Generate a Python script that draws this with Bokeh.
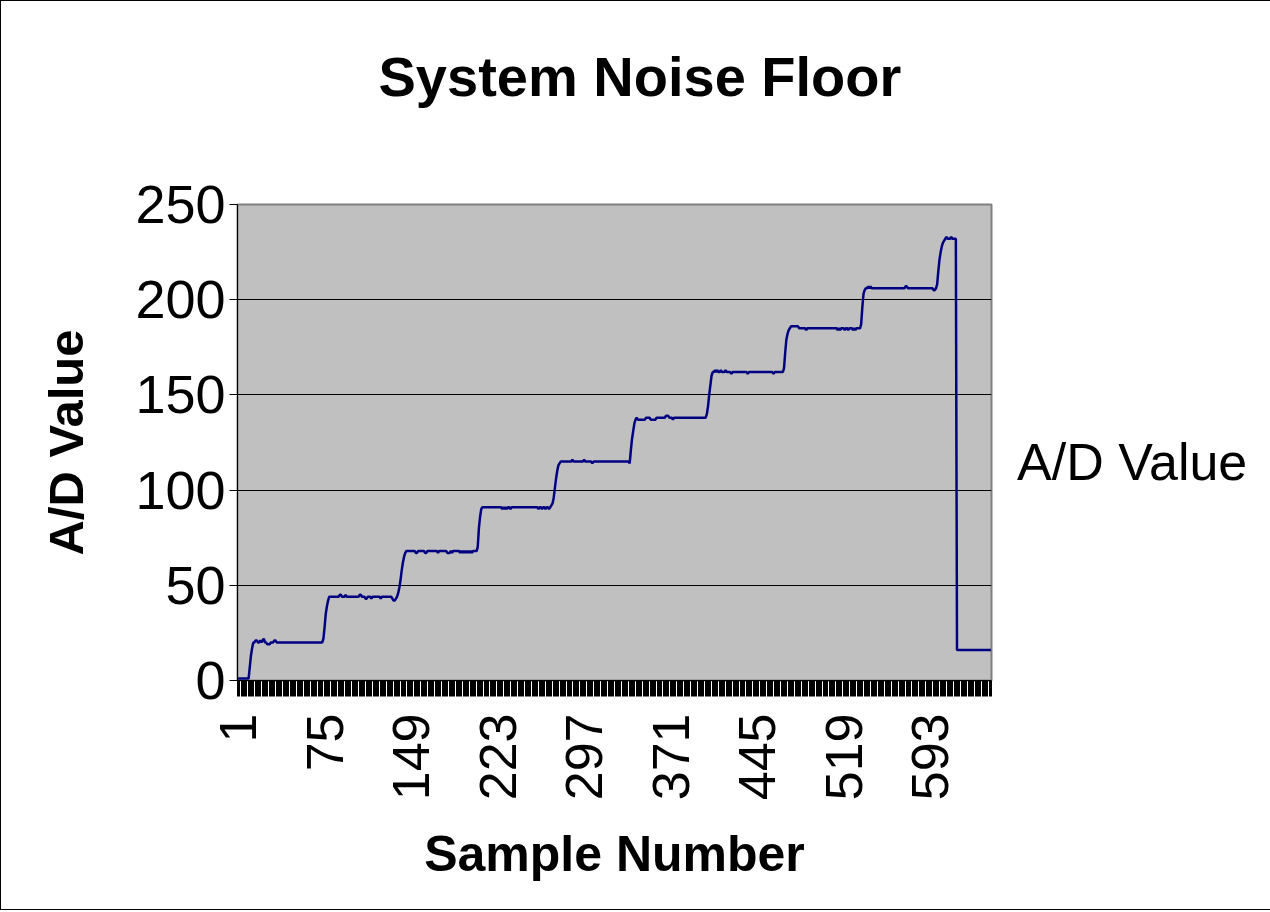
import math
from bokeh.plotting import figure
from bokeh.models import (Range1d, FixedTicker, ColumnDataSource, Title,
                          Legend, LegendItem)
from bokeh.embed import file_html
from bokeh.resources import INLINE

# ---- data (A/D value per sample) ----
step0 = [1, 1, 1, 1, 1, 1, 1, 1, 1, 1, 7, 13, 17, 20]
step1 = [20, 21, 21, 20, 20, 21, 20, 21, 22, 20,
         20, 19, 19, 19, 20, 20, 20, 21, 21, 20,
         20, 20, 20, 20, 20, 20, 20, 20, 20, 20,
         20, 20, 20, 20, 20, 20, 20, 20, 20, 20,
         20, 20, 20, 20, 20, 20, 20, 20, 20, 20,
         20, 20, 20, 20, 20, 20, 20, 20, 20]
step2 = [22, 28, 35, 39, 42, 44, 44,
         44, 44, 44, 44, 44, 44, 44, 45, 45, 44, 44, 44, 45, 44,
         44, 44, 44, 44, 44, 44, 44, 44, 44, 44, 45, 45, 44, 44, 44,
         43, 43, 44, 44, 44, 43, 44, 44, 44, 44, 44, 44, 44, 43,
         44, 44, 44, 44, 44, 44, 44, 44, 44, 43, 42, 42, 43, 44]
step3 = [46, 49, 53, 58, 62, 65, 67, 68,
         68, 68, 68, 68, 68, 68, 68, 67, 67, 68,
         68, 68, 68, 68, 68, 67, 67, 68, 68, 68,
         68, 68, 68, 68, 68, 68, 67, 68, 68, 68,
         68, 68, 68, 68, 67, 67, 67, 68, 67, 68,
         68, 68, 68, 68, 68, 67, 68, 67, 68, 67,
         68, 67, 68, 67, 68, 67, 68, 68, 68, 68]
step4 = [70, 80, 86, 90, 91, 91,
         91, 91, 91, 91, 91, 91, 91, 91, 91, 91,
         91, 91, 91, 91, 91, 90, 91, 90, 91, 90,
         91, 91, 90, 91, 91, 91, 91, 91, 91, 91,
         91, 91, 91, 91, 91, 91, 91, 91, 91, 91,
         91, 91, 91, 91, 91, 91, 90, 91, 91, 90,
         91, 91, 90, 91, 91, 90, 91, 92]
step5 = [93, 96, 101, 106, 110, 113, 114, 115,
         115, 115, 115, 115, 115, 115, 115, 115, 115, 116,
         115, 115, 115, 115, 115, 115, 115, 115, 115, 116,
         115, 115, 115, 115, 115, 115, 114, 115, 115, 115,
         115, 115, 115, 115, 115, 115, 115, 115, 115, 115,
         115, 115, 115, 115, 115, 115, 115, 115, 115, 115,
         115, 115, 115, 115, 115, 115, 115, 115, 114]
step6 = [121, 127, 131, 135, 137, 138,
         137, 137, 137, 137, 137, 137, 137,
         138, 138, 138, 138,
         137, 137, 137, 137, 137,
         138, 138, 138, 138, 138, 138, 138, 138,
         139, 139, 139,
         138, 138, 138,
         137,
         138, 138, 138, 138, 138, 138, 138, 138, 138, 138,
         138, 138, 138, 138, 138, 138, 138, 138, 138, 138,
         138, 138, 138, 138, 138, 138, 138, 138]
step7 = [140, 144, 150, 155, 160, 162,
         162, 163, 162, 163, 162, 162, 163, 162, 162, 162,
         163, 162, 162, 162, 162, 161, 162, 162, 162, 162,
         162, 162, 162, 162, 162, 162, 162, 162, 162, 161,
         162, 162, 162, 162, 162, 162, 162, 162, 162, 162,
         162, 162, 162, 162, 162, 162, 162, 162, 162, 162,
         162, 161, 162, 162, 162, 162, 162, 162, 162, 162]
step8 = [164, 172, 179, 182, 184, 185,
         186, 186, 186, 186, 186, 186, 186, 185, 185, 185,
         185, 185, 185, 184, 185, 185, 185, 185, 185, 185,
         185, 185, 185, 185, 185, 185, 185, 185, 185, 185,
         185, 185, 185, 185, 185, 185, 185, 185, 185, 185,
         184, 185, 184, 185, 185, 185, 184, 185, 185, 184,
         185, 185, 185, 184, 185, 184, 185, 185, 185, 185]
step9 = [187, 196, 203, 205, 206,
         206, 207, 206, 207, 206, 206, 206, 206, 206, 206,
         206, 206, 206, 206, 206, 206, 206, 206, 206, 206,
         206, 206, 206, 206, 206, 206, 206, 206, 206, 206,
         206, 206, 206, 207, 207, 206, 206, 206, 206, 206,
         206, 206, 206, 206, 206, 206, 206, 206, 206, 206,
         206, 206, 206, 206, 206, 206, 206, 205, 205]
step10 = [206, 208, 215, 221, 225, 228, 230, 231, 232, 233,
          232, 232, 232, 233, 232, 232, 232, 232]
step11 = [16, 16, 16, 16, 16, 16, 16, 16, 16, 16,
          16, 16, 16, 16, 16, 16, 16, 16, 16, 16,
          16, 16, 16, 16, 16, 16, 16, 16, 16, 16]

ad_value = (step0 + step1 + step2 + step3 + step4 + step5 + step6 +
            step7 + step8 + step9 + step10 + step11)
sample_number = list(range(1, len(ad_value) + 1))

x_tick_labels = ["1", "75", "149", "223", "297", "371", "445", "519", "593"]
y_tick_values = [0, 50, 100, 150, 200, 250]

title_text = "System Noise Floor"
x_title = "Sample Number"
y_title = "A/D Value"
series_name = "A/D Value"

FONT = "Liberation Sans"
n = len(ad_value)

p = figure(frame_width=754, frame_height=476,
           min_border_left=236, min_border_right=277,
           min_border_top=203, min_border_bottom=229,
           x_range=Range1d(0.5, n + 0.5), y_range=Range1d(0, 250),
           output_backend="svg", toolbar_location=None,
           background_fill_color="#C0C0C0", border_fill_color="white")

p.outline_line_color = "#808080"
p.outline_line_width = 2

src = ColumnDataSource(dict(x=sample_number, y=ad_value))
line_r = p.line("x", "y", source=src, line_color="#000080", line_width=2.5)

# grid
p.xgrid.visible = False
p.ygrid.ticker = FixedTicker(ticks=y_tick_values[1:-1])
p.ygrid.grid_line_color = "black"
p.ygrid.grid_line_width = 1

# y axis
ya = p.yaxis[0]
ya.ticker = FixedTicker(ticks=y_tick_values)
ya.axis_line_color = "black"
ya.major_tick_out = 8
ya.major_tick_in = 0
ya.minor_tick_out = 0
ya.minor_tick_in = 0
ya.major_tick_line_color = "black"
ya.major_label_text_font = FONT
ya.major_label_text_font_size = "54px"
ya.major_label_text_color = "black"
ya.major_label_standoff = 4
ya.axis_label = y_title
ya.axis_label_text_font = FONT
ya.axis_label_text_font_style = "bold"
ya.axis_label_text_font_size = "49px"
ya.axis_label_text_color = "black"
ya.axis_label_standoff = 39

# x axis
xa = p.xaxis[0]
tick_pos = [int(t) for t in x_tick_labels]
xa.ticker = FixedTicker(ticks=tick_pos,
                        minor_ticks=[k + 0.5 for k in range(0, n + 1)])
xa.major_label_overrides = {t: s for t, s in zip(tick_pos, x_tick_labels)}
xa.axis_line_color = "black"
xa.major_tick_out = 0
xa.major_tick_in = 0
xa.minor_tick_out = 16
xa.minor_tick_in = 0
xa.minor_tick_line_color = "black"
xa.minor_tick_line_width = 1
xa.major_label_orientation = math.pi / 2
xa.major_label_text_font = FONT
xa.major_label_text_font_size = "52px"
xa.major_label_text_color = "black"
xa.major_label_standoff = 17
xa.axis_label = x_title
xa.axis_label_text_font = FONT
xa.axis_label_text_font_style = "bold"
xa.axis_label_text_font_size = "50px"
xa.axis_label_text_color = "black"
xa.axis_label_standoff = 23

# chart title (outermost panel above the plot)
p.title.text = title_text
p.title.text_font = FONT
p.title.text_font_style = "bold"
p.title.text_font_size = "56px"
p.title.text_color = "black"
p.title.align = "left"
p.title.offset = 141
p.title.standoff = 10

# empty spacer panel between the title and the plot area
p.add_layout(Title(text=" ", text_font_size="10px", standoff=79), "above")

# series legend (text only, as in the picture)
legend = Legend(items=[LegendItem(label=series_name, renderers=[line_r])],
                location=(0, 188), glyph_width=0, glyph_height=40,
                label_standoff=26, margin=10, padding=10,
                label_text_font=FONT, label_text_font_size="52px",
                label_text_color="black", border_line_color=None,
                background_fill_alpha=0)
p.add_layout(legend, "right")

p.styles = {"border": "1px solid black"}

open("out.html", "w").write(file_html(p, INLINE))
